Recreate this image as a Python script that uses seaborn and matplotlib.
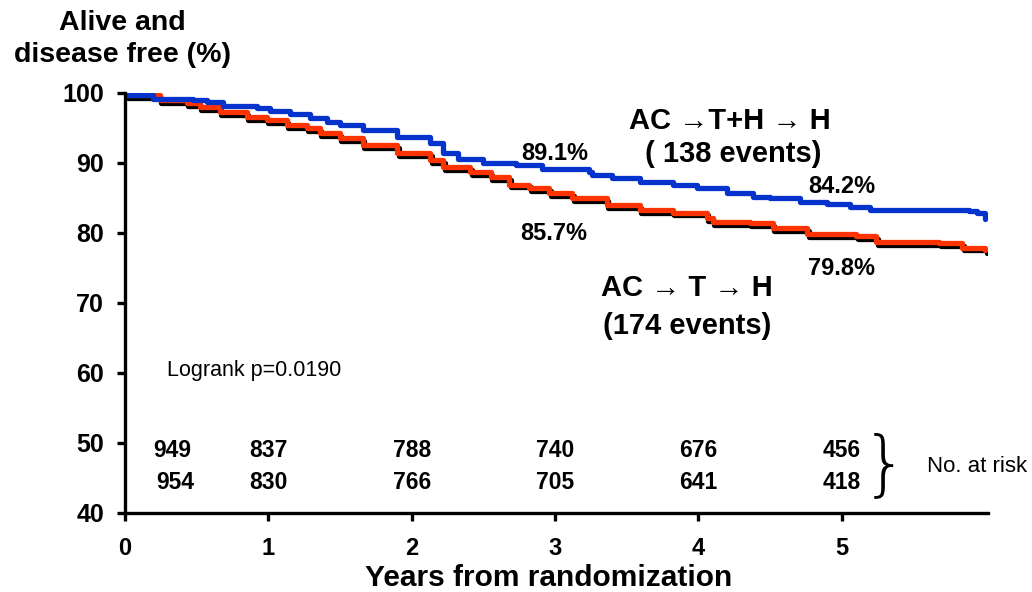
import numpy as np
import pandas as pd
import matplotlib
matplotlib.use("Agg")
import matplotlib.pyplot as plt
import matplotlib.patheffects as pe
import seaborn as sns

# ---- data ----
blue_t = [0.0, 0.014, 0.195, 0.474, 0.572, 0.683, 0.92, 1.01, 1.15, 1.29, 1.41, 1.50, 1.66, 1.90,
          2.13, 2.22, 2.32, 2.50, 2.73, 2.91, 3.24, 3.26, 3.40, 3.59, 3.82, 3.99, 4.20, 4.38,
          4.50, 4.71, 4.90, 5.06, 5.20, 5.89, 5.94, 6.00]
blue_v = [100.0, 99.7, 99.1, 99.0, 98.7, 98.1, 97.9, 97.4, 97.0, 96.4, 95.9, 95.4, 94.7, 93.7,
          92.9, 91.4, 90.6, 90.0, 89.7, 89.1, 88.7, 88.3, 87.9, 87.3, 86.9, 86.4, 85.7, 85.1,
          85.0, 84.5, 84.2, 83.7, 83.3, 83.1, 82.9, 82.0]

red_t = [0.0, 0.014, 0.244, 0.43, 0.52, 0.66, 0.85, 0.99, 1.13, 1.27, 1.36, 1.50, 1.66, 1.90,
         2.13, 2.22, 2.41, 2.55, 2.68, 2.82, 2.96, 3.12, 3.36, 3.59, 3.82, 4.06, 4.10, 4.36,
         4.52, 4.76, 5.10, 5.24, 5.68, 5.84, 6.00]
red_v = [100.0, 99.7, 99.0, 98.6, 98.0, 97.3, 96.6, 96.1, 95.4, 95.0, 94.3, 93.6, 92.6, 91.4,
         90.4, 89.4, 88.7, 88.0, 86.9, 86.4, 85.7, 85.0, 84.0, 83.3, 82.9, 82.1, 81.6, 81.4,
         80.7, 79.8, 79.6, 78.7, 78.6, 77.9, 77.6]

risk_years = [0, 1, 2, 3, 4, 5]
risk_blue = [949, 837, 788, 740, 676, 456]
risk_red = [954, 830, 766, 705, 641, 418]

x_ticks = [0, 1, 2, 3, 4, 5]
y_ticks = [40, 50, 60, 70, 80, 90, 100]

BLUE = "#0533CC"
RED = "#FF3300"

sns.set_style("white")
plt.rcParams["font.family"] = ["Liberation Sans", "DejaVu Sans"]
plt.rcParams["text.color"] = "black"
plt.rcParams["axes.labelcolor"] = "black"
plt.rcParams["xtick.color"] = "black"
plt.rcParams["ytick.color"] = "black"

fig = plt.figure(figsize=(10.32, 5.92), dpi=100)
ax = fig.add_axes([125 / 1032, 79 / 592, 863 / 1032, 420 / 592])

df = pd.concat([
    pd.DataFrame({"t": red_t, "v": red_v, "arm": "AC-T-H"}),
    pd.DataFrame({"t": blue_t, "v": blue_v, "arm": "AC-TH-H"}),
])

sns.lineplot(data=df[df.arm == "AC-T-H"], x="t", y="v", ax=ax, color=RED, lw=3.8,
             drawstyle="steps-post", estimator=None, sort=False, legend=False)
ax.lines[-1].set_path_effects([pe.SimpleLineShadow(offset=(1, -2), shadow_color="black", alpha=1),
                               pe.Normal()])
sns.lineplot(data=df[df.arm == "AC-TH-H"], x="t", y="v", ax=ax, color=BLUE, lw=3.8,
             drawstyle="steps-post", estimator=None, sort=False, legend=False)

ax.set_xlim(0, 6.02)
ax.set_ylim(40, 100)
ax.set_xticks(x_ticks)
ax.set_yticks(y_ticks)
ax.set_xlabel("")
ax.set_ylabel("")
for s in ["top", "right"]:
    ax.spines[s].set_visible(False)
for s in ["left", "bottom"]:
    ax.spines[s].set_linewidth(2.4)
    ax.spines[s].set_color("black")
ax.tick_params(axis="both", direction="out", length=6, width=2.4, colors="black")
ax.tick_params(axis="x", pad=11, bottom=True, labelsize=17)
ax.tick_params(axis="y", pad=9, left=True, labelsize=18)
for lab in ax.get_xticklabels() + ax.get_yticklabels():
    lab.set_fontweight("bold")

fig.text(549 / 1032, 1 - 578 / 592, "Years from randomization", fontsize=21.5,
         fontweight="bold", ha="center", va="center")
fig.text(122 / 1032, 1 - 39 / 592, "Alive and\ndisease free (%)", fontsize=20.5,
         fontweight="bold", ha="center", va="center", linespacing=1.25)

# group labels
ax.text(4.22, 96.0, "AC \u2192T+H \u2192 H", fontsize=21, fontweight="bold", ha="center", va="center")
ax.text(4.24, 91.3, "( 138 events)", fontsize=21, fontweight="bold", ha="center", va="center")
ax.text(3.92, 72.1, "AC \u2192 T \u2192 H", fontsize=21, fontweight="bold", ha="center", va="center")
ax.text(3.92, 66.7, "(174 events)", fontsize=21, fontweight="bold", ha="center", va="center")

# percentages
ax.text(3.0, 91.4, "89.1%", fontsize=17, fontweight="bold", ha="center", va="center")
ax.text(2.99, 80.0, "85.7%", fontsize=17, fontweight="bold", ha="center", va="center")
ax.text(5.0, 86.7, "84.2%", fontsize=17, fontweight="bold", ha="center", va="center")
ax.text(5.0, 74.9, "79.8%", fontsize=17, fontweight="bold", ha="center", va="center")

ax.text(0.29, 60.3, "Logrank p=0.0190", fontsize=15.5, ha="left", va="center")

# numbers at risk
for i, (yr, nb, nr) in enumerate(zip(risk_years, risk_blue, risk_red)):
    xb = 0.33 if yr == 0 else yr
    xr = 0.35 if yr == 0 else yr
    ax.text(xb, 48.9, str(nb), fontsize=16.5, fontweight="bold", ha="center", va="center")
    ax.text(xr, 44.3, str(nr), fontsize=16.5, fontweight="bold", ha="center", va="center")

ax.text(5.3, 46.6, "}", fontsize=52, fontweight="light", ha="center", va="center",
        family="DejaVu Sans", clip_on=False)
ax.text(5.595, 46.7, "No. at risk", fontsize=16, ha="left", va="center", clip_on=False)

fig.savefig("out.png", dpi=100)
